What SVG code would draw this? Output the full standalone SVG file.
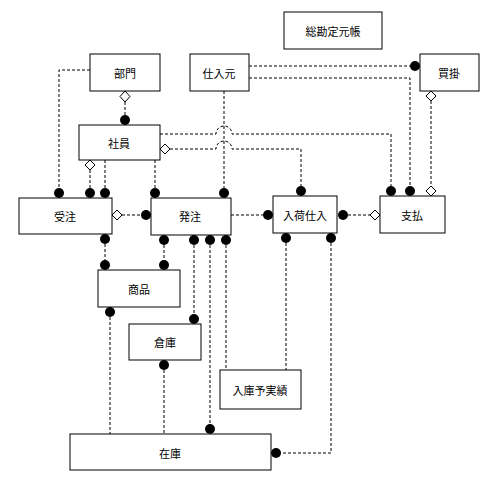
<svg xmlns="http://www.w3.org/2000/svg" width="500" height="487" viewBox="0 0 500 487">
<style>
.box{fill:#fff;stroke:#000;stroke-width:1}
.t{font-family:"Noto Sans CJK JP","Noto Sans CJK SC",sans-serif;font-size:11px;fill:#000;text-anchor:middle;dominant-baseline:central}
.c{fill:none;stroke:#000;stroke-width:1;stroke-dasharray:3,2}
.dot{fill:#000}
.dia{fill:#fff;stroke:#000;stroke-width:1}
</style>
<rect width="500" height="487" fill="#fff"/>
<g id="connectors">
<!-- 部門 to 受注 -->
<path class="c" d="M90,70 H59 V188"/>
<!-- 部門 to 社員 -->
<path class="c" d="M125,102 V120"/>
<!-- 社員 to 受注 -->
<path class="c" d="M90,170 V188"/>
<path class="c" d="M105,160 V188"/>
<!-- 社員 to 発注 -->
<path class="c" d="M155,160 V188"/>
<!-- 仕入元 to 発注 -->
<path class="c" d="M224,91 V188"/>
<!-- 社員 to 支払 (hop) -->
<path class="c" d="M160,134 H216 A8,8 0 0 1 232,134 H391 V186"/>
<!-- 社員 to 入荷仕入 (hop) -->
<path class="c" d="M170,149 H216 A8,8 0 0 1 232,149 H301 V186"/>
<!-- 仕入元 to 買掛 -->
<path class="c" d="M249,66 H410"/>
<!-- 仕入元 to 支払 -->
<path class="c" d="M249,78 H410 V186"/>
<!-- 買掛 to 支払 -->
<path class="c" d="M431,101 V186"/>
<!-- 受注 to 発注 -->
<path class="c" d="M122,215 H141"/>
<!-- 発注 to 入荷仕入 -->
<path class="c" d="M231,215 H263"/>
<!-- 入荷仕入 to 支払 -->
<path class="c" d="M348,215 H370"/>
<!-- 受注 to 商品 -->
<path class="c" d="M105,239 V265"/>
<!-- 発注 to 商品 -->
<path class="c" d="M164,240 V265"/>
<!-- 発注 to 倉庫 -->
<path class="c" d="M194,240 V319"/>
<!-- 発注 to 在庫 -->
<path class="c" d="M210,240 V429"/>
<!-- 発注 to 入庫予実績 -->
<path class="c" d="M226,240 V370"/>
<!-- 入荷仕入 to 入庫予実績 -->
<path class="c" d="M286,238 V370"/>
<!-- 入荷仕入 to 在庫 -->
<path class="c" d="M331,238 V453 H276"/>
<!-- 商品 to 在庫 -->
<path class="c" d="M110,312 V434"/>
<!-- 倉庫 to 在庫 -->
<path class="c" d="M164,365 V434"/>
<!-- markers: filled dots -->
<g class="dot">
<circle cx="59" cy="193" r="5"/>
<circle cx="125" cy="120" r="5"/>
<circle cx="90" cy="193" r="5"/>
<circle cx="105" cy="193" r="5"/>
<circle cx="155" cy="193" r="5"/>
<circle cx="224" cy="193" r="5"/>
<circle cx="391" cy="191" r="5"/>
<circle cx="301" cy="191" r="5"/>
<circle cx="415" cy="66" r="5"/>
<circle cx="410" cy="191" r="5"/>
<circle cx="146" cy="215" r="5"/>
<circle cx="268" cy="215" r="5"/>
<circle cx="343" cy="215" r="5"/>
<circle cx="105" cy="239" r="5"/>
<circle cx="105" cy="265" r="5"/>
<circle cx="164" cy="240" r="5"/>
<circle cx="164" cy="265" r="5"/>
<circle cx="194" cy="240" r="5"/>
<circle cx="194" cy="319" r="5"/>
<circle cx="210" cy="240" r="5"/>
<circle cx="210" cy="429" r="5"/>
<circle cx="226" cy="240" r="5"/>
<circle cx="286" cy="238" r="5"/>
<circle cx="331" cy="238" r="5"/>
<circle cx="276" cy="453" r="5"/>
<circle cx="110" cy="312" r="5"/>
<circle cx="164" cy="365" r="5"/>
</g>
<!-- markers: hollow diamonds -->
<g class="dia">
<path d="M125,91 L130,96.5 L125,102 L120,96.5 Z"/>
<path d="M90,160 L95,165 L90,170 L85,165 Z"/>
<path d="M160,149 L165,144 L170,149 L165,154 Z"/>
<path d="M431,91 L436,96 L431,101 L426,96 Z"/>
<path d="M431,186 L436,191 L431,196 L426,191 Z"/>
<path d="M112,215 L117,210 L122,215 L117,220 Z"/>
<path d="M380,215 L375,210 L370,215 L375,220 Z"/>
</g>
</g>
<g id="n-sokanjo"><rect class="box" x="284" y="12" width="98" height="37"/><text class="t" x="333" y="31">総勘定元帳</text></g>
<g id="n-bumon"><rect class="box" x="90" y="54" width="70" height="37"/><text class="t" x="125" y="73">部門</text></g>
<g id="n-shiiresaki"><rect class="box" x="190" y="54" width="59" height="37"/><text class="t" x="219" y="73">仕入元</text></g>
<g id="n-kaikake"><rect class="box" x="420" y="54" width="59" height="37"/><text class="t" x="449" y="73">買掛</text></g>
<g id="n-shain"><rect class="box" x="79" y="125" width="81" height="35"/><text class="t" x="119" y="143">社員</text></g>
<g id="n-juchu"><rect class="box" x="19" y="198" width="93" height="36"/><text class="t" x="65" y="216">受注</text></g>
<g id="n-hatchu"><rect class="box" x="151" y="198" width="80" height="37"/><text class="t" x="190" y="216">発注</text></g>
<g id="n-nyuka"><rect class="box" x="273" y="196" width="64" height="37"/><text class="t" x="305" y="215">入荷仕入</text></g>
<g id="n-shiharai"><rect class="box" x="380" y="196" width="65" height="37"/><text class="t" x="412" y="215">支払</text></g>
<g id="n-shohin"><rect class="box" x="98" y="270" width="82" height="37"/><text class="t" x="139" y="289">商品</text></g>
<g id="n-soko"><rect class="box" x="129" y="324" width="72" height="36"/><text class="t" x="165" y="342">倉庫</text></g>
<g id="n-nyuko"><rect class="box" x="220" y="370" width="81" height="39"/><text class="t" x="260" y="390">入庫予実績</text></g>
<g id="n-zaiko"><rect class="box" x="70" y="434" width="201" height="36"/><text class="t" x="170" y="453">在庫</text></g>
</svg>
